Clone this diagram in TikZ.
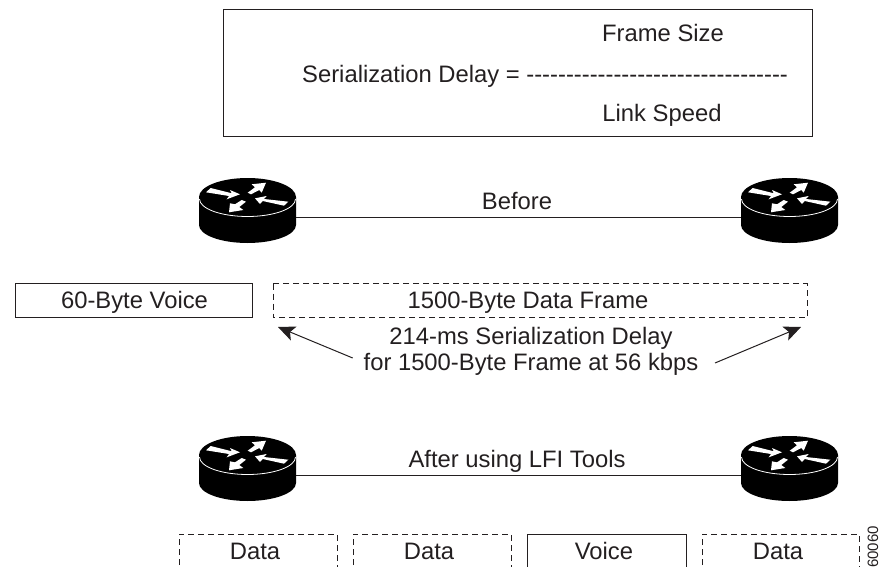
\documentclass[tikz,border=0pt]{standalone}
\usepackage{fontspec}
\setmainfont{Liberation Sans}
\usetikzlibrary{arrows.meta}
\definecolor{ink}{HTML}{231F20}
\tikzset{
  x=1pt,y=-1pt,
  lab/.style={font=\fontsize{23.8}{28}\selectfont,text=ink,inner sep=0pt,anchor=base,align=center},
  solidbox/.style={draw=ink,line width=1pt},
  dashbox/.style={draw=ink,line width=1pt,dash pattern=on 6pt off 4pt},
  wire/.style={draw=ink,line width=1pt},
  pointer/.style={draw=ink,line width=1pt,-{Stealth[length=17pt,width=15pt,inset=4pt]}},
  routerarrow/.style={fill=white,draw=none}
}
\newcommand{\routerat}[3]{%
  \begin{scope}[shift={(#1,#2)}]
    \coordinate (#3-w) at (-48.5,20);
    \coordinate (#3-e) at (48.5,20);
    \fill[black] (-48.5,0) -- (-48.5,28) arc[x radius=48.5pt,y radius=18pt,start angle=180,end angle=360] -- (48.5,0) arc[x radius=48.5pt,y radius=19pt,start angle=0,end angle=180] -- cycle;
    \draw[white,line width=0.8pt] (-48,2) arc[x radius=48pt,y radius=17.5pt,start angle=180,end angle=360];
    \fill[routerarrow] (-36.8,-9) -- (-15.8,-3.7) -- (-17.5,-7) -- (-7.5,-2.7) -- (-20.8,2.3) -- (-18.5,-1) -- (-41.5,-4.7) -- cycle;
    \fill[routerarrow] (18.5,-14.3) -- (4.2,-12.7) -- (7.5,-9.7) -- (0.2,-4.3) -- (3.5,-2.7) -- (11.8,-7) -- (14.2,-4.3) -- cycle;
    \fill[routerarrow] (-18.5,15.3) -- (-4.2,13) -- (-8.2,10) -- (-1.5,4.7) -- (-5.8,3) -- (-12.5,7.3) -- (-17.5,6.3) -- cycle;
    \fill[routerarrow] (7.5,1.3) -- (19.2,-1) -- (16.5,2) -- (40.8,4.7) -- (36.5,8.7) -- (15.2,4) -- (12.5,7) -- cycle;
  \end{scope}}
\newcommand{\hy}{-{}}
\begin{document}
\begin{tikzpicture}
\useasboundingbox (0,0) rectangle (881,567);
\draw[solidbox] (223,9.5) rectangle (812,137);
\node[lab] (fs) at (663,42) {Frame Size};
\node[lab,anchor=base west] (sd) at (302,83) {Serialization Delay = \hy\hy\hy\hy\hy\hy\hy\hy\hy\hy\hy\hy\hy\hy\hy\hy\hy\hy\hy\hy\hy\hy\hy\hy\hy\hy\hy\hy\hy\hy\hy\hy\hy};
\node[lab] (ls) at (662,122) {Link Speed};

\routerat{247.5}{197}{ra}
\routerat{789.5}{197}{rb}
\draw[wire] (ra-e) -- (rb-w);
\node[lab] (before) at (517,209) {Before};

\draw[solidbox] (15.5,283.5) rectangle (252,317.5);
\node[lab] (voice) at (134.5,308) {60-Byte Voice};
\draw[dashbox] (273,283.5) rectangle (807,317.5);
\node[lab] (frame) at (528,308) {1500-Byte Data Frame};
\node[lab] (delay) at (531,344) {214-ms Serialization Delay};
\node[lab] (for) at (531,370) {for 1500-Byte Frame at 56 kbps};
\coordinate (pl) at (352.7,358);
\coordinate (pla) at (278,327);
\coordinate (pr) at (715,363);
\coordinate (pra) at (801,327);
\draw[pointer] (pl) -- (pla);
\draw[pointer] (pr) -- (pra);

\routerat{247.5}{455}{rc}
\routerat{789.5}{455}{rd}
\draw[wire] (rc-e) -- (rd-w);
\node[lab] (after) at (517,467) {After using LFI Tools};

\draw[dashbox] (179,575) -- (179,534) -- (337,534) -- (337,575);
\node[lab] (d1) at (255,559) {Data};
\draw[dashbox] (353,575) -- (353,534) -- (511,534) -- (511,575);
\node[lab] (d2) at (429,559) {Data};
\draw[solidbox] (527,575) -- (527,534) -- (686,534) -- (686,575);
\node[lab] (v2) at (604,559) {Voice};
\draw[dashbox] (702,575) -- (702,534) -- (859,534) -- (859,575);
\node[lab] (d3) at (778,559) {Data};
\node[font=\fontsize{15}{18}\selectfont,text=ink,inner sep=0pt,rotate=90,anchor=base west] (num) at (878,568) {60060};
\end{tikzpicture}
\end{document}
